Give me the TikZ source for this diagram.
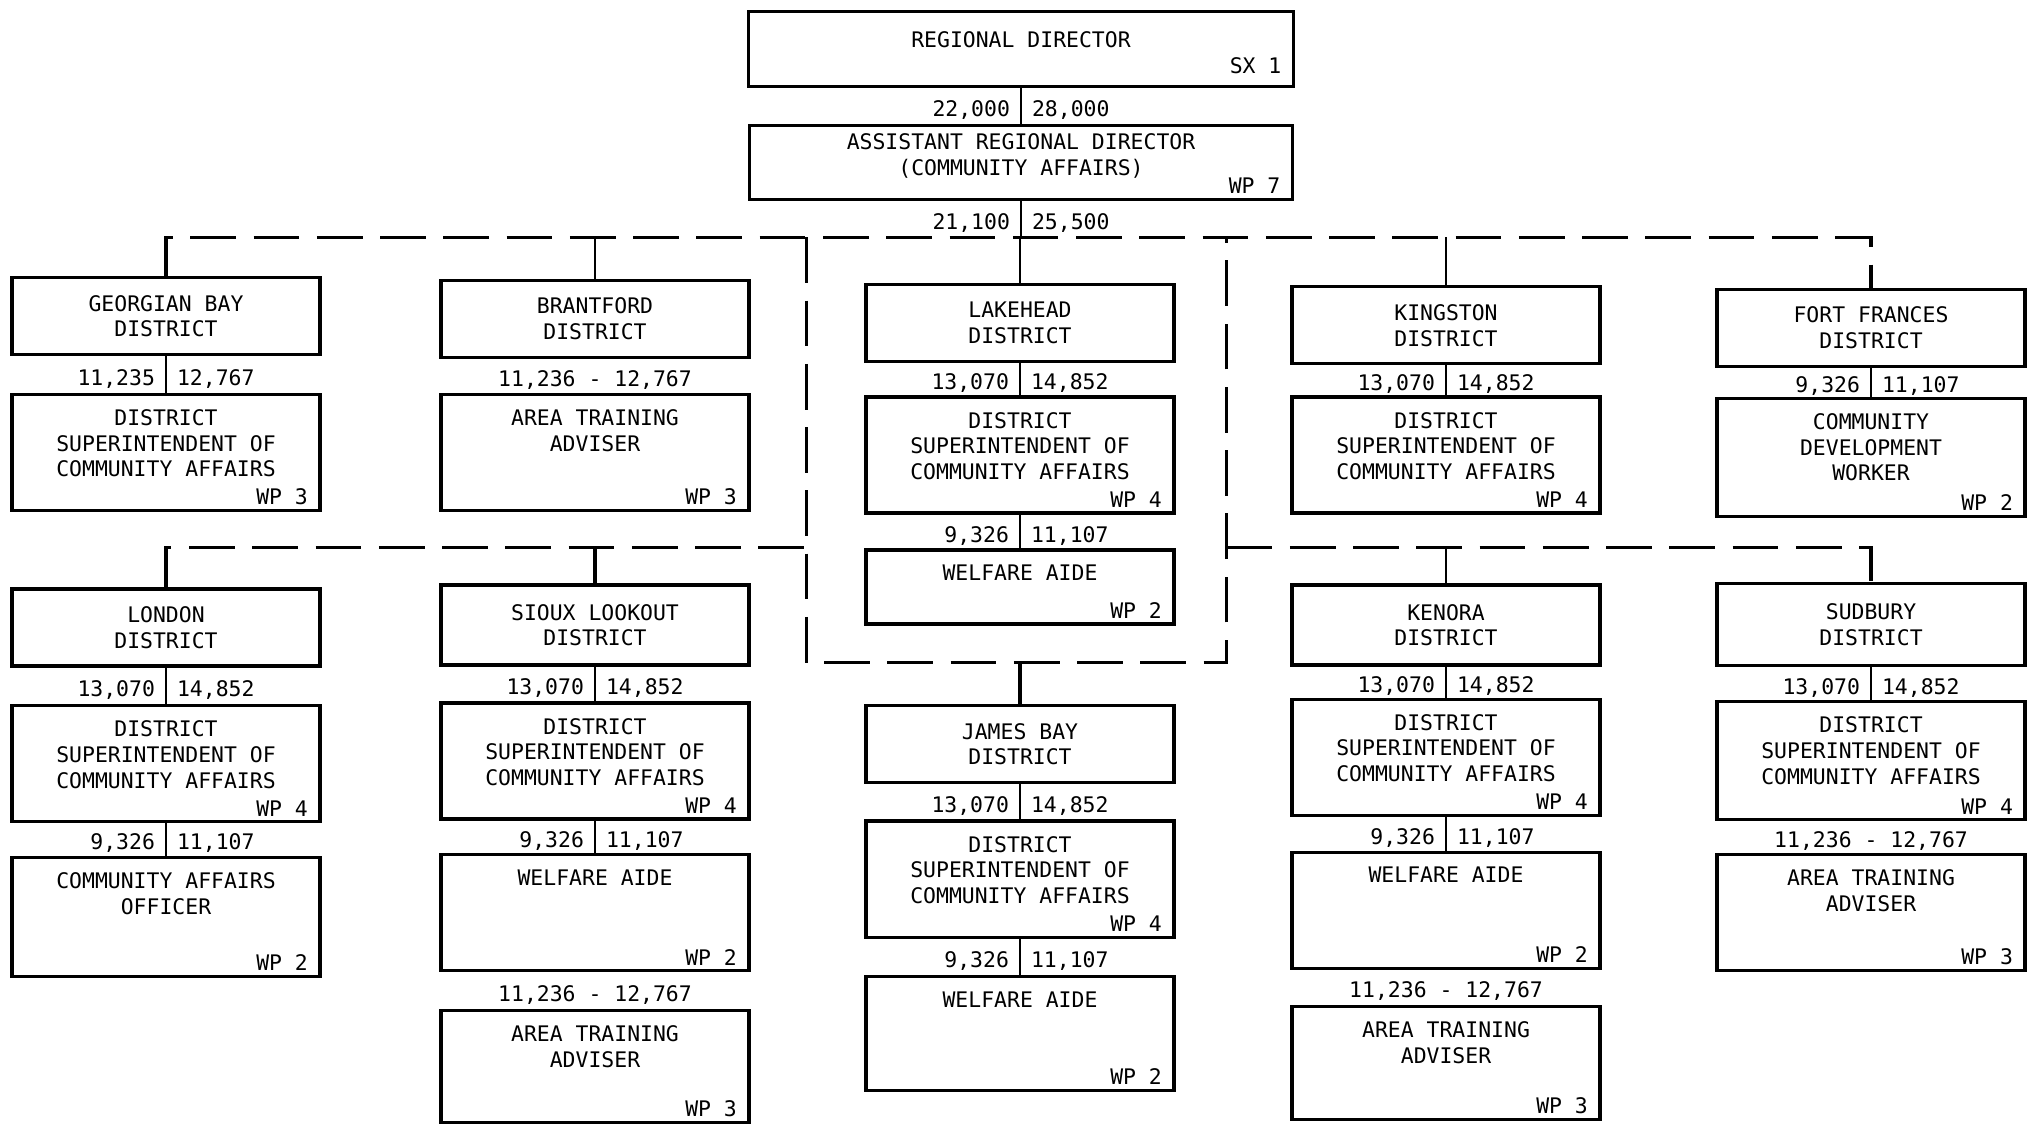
\documentclass[tikz,border=0pt]{standalone}
\usepackage{fontspec}
\newfontfamily\typewriter{DejaVu Sans Mono}
\usetikzlibrary{positioning, calc}

\begin{document}
\begin{tikzpicture}[
  every node/.style={font=\typewriter\fontsize{6.1pt}{7.3pt}\selectfont, align=center},
  unit/.style={draw, line width=.9pt, anchor=north, minimum width=3.08cm, minimum height=.77cm, inner sep=0pt},
  post/.style={draw, line width=.9pt, anchor=north, minimum width=3.08cm, minimum height=1.16cm, inner sep=0pt},
  head/.style={anchor=north, inner sep=1.6mm},
  grade/.style={anchor=south east, inner xsep=1.3mm, inner ysep=.65mm},
  lo/.style={anchor=east, inner xsep=1mm, inner ysep=0pt, yshift=-.4mm},
  hi/.style={anchor=west, inner xsep=1mm, inner ysep=0pt, yshift=-.4mm},
  pay/.style={inner sep=0pt, yshift=-.4mm},
  link/.style={line width=.6pt},
  bus/.style={line width=.9pt, dash pattern=on 13pt off 5pt}
]
  \useasboundingbox (0,0) rectangle (20.33,11.23);

  \node[post, minimum width=5.45cm, minimum height=.75cm] (rd) at (10.21,11.13) {};
  \node[head, yshift=-.5mm] (rdT) at (rd.north) {REGIONAL DIRECTOR};
  \node[grade, yshift=.7mm] (rdG) at (rd.south east) {SX 1};
  \node[post, minimum width=5.43cm, minimum height=.74cm] (ard) at (10.21,9.99) {};
  \node[head, yshift=.7mm] (ardT) at (ard.north) {ASSISTANT REGIONAL DIRECTOR\\(COMMUNITY AFFAIRS)};
  \node[grade] (ardG) at (ard.south east) {WP 7};

  \coordinate (busA) at (0,8.857);
  \coordinate (busB) at (0,5.758);
  \coordinate (boxL) at (8.065,4.604);
  \coordinate (boxR) at (12.266,4.604);

  % first row of districts
  \node[unit] (gb) at (1.66,8.468) {GEORGIAN BAY\\DISTRICT};
  \node[post] (gbSup) at (1.66,7.301) {};
  \node[head] (gbSupT) at (gbSup.north) {DISTRICT\\SUPERINTENDENT OF\\COMMUNITY AFFAIRS};
  \node[grade] (gbSupG) at (gbSup.south east) {WP 3};

  \node[unit] (br) at (5.95,8.442) {BRANTFORD\\DISTRICT};
  \node[post] (brAta) at (5.95,7.301) {};
  \node[head] (brAtaT) at (brAta.north) {AREA TRAINING\\ADVISER};
  \node[grade] (brAtaG) at (brAta.south east) {WP 3};

  \node[unit] (lk) at (10.20,8.403) {LAKEHEAD\\DISTRICT};
  \node[post] (lkSup) at (10.20,7.275) {};
  \node[head] (lkSupT) at (lkSup.north) {DISTRICT\\SUPERINTENDENT OF\\COMMUNITY AFFAIRS};
  \node[grade] (lkSupG) at (lkSup.south east) {WP 4};
  \node[post, minimum height=.74cm] (lkAide) at (10.20,5.745) {};
  \node[head] (lkAideT) at (lkAide.north) {WELFARE AIDE};
  \node[grade] (lkAideG) at (lkAide.south east) {WP 2};

  \node[unit] (kg) at (14.46,8.377) {KINGSTON\\DISTRICT};
  \node[post] (kgSup) at (14.46,7.275) {};
  \node[head] (kgSupT) at (kgSup.north) {DISTRICT\\SUPERINTENDENT OF\\COMMUNITY AFFAIRS};
  \node[grade] (kgSupG) at (kgSup.south east) {WP 4};

  \node[unit] (ff) at (18.71,8.352) {FORT FRANCES\\DISTRICT};
  \node[post, minimum height=1.18cm] (ffCdw) at (18.71,7.262) {};
  \node[head] (ffCdwT) at (ffCdw.north) {COMMUNITY\\DEVELOPMENT\\WORKER};
  \node[grade] (ffCdwG) at (ffCdw.south east) {WP 2};

  % second row of districts
  \node[unit] (ld) at (1.66,5.356) {LONDON\\DISTRICT};
  \node[post] (ldSup) at (1.66,4.189) {};
  \node[head] (ldSupT) at (ldSup.north) {DISTRICT\\SUPERINTENDENT OF\\COMMUNITY AFFAIRS};
  \node[grade] (ldSupG) at (ldSup.south east) {WP 4};
  \node[post, minimum height=1.19cm] (ldCao) at (1.66,2.672) {};
  \node[head] (ldCaoT) at (ldCao.north) {COMMUNITY AFFAIRS\\OFFICER};
  \node[grade] (ldCaoG) at (ldCao.south east) {WP 2};

  \node[unit, minimum height=.8cm] (sl) at (5.95,5.395) {SIOUX LOOKOUT\\DISTRICT};
  \node[post] (slSup) at (5.95,4.215) {};
  \node[head] (slSupT) at (slSup.north) {DISTRICT\\SUPERINTENDENT OF\\COMMUNITY AFFAIRS};
  \node[grade] (slSupG) at (slSup.south east) {WP 4};
  \node[post] (slAide) at (5.95,2.698) {};
  \node[head] (slAideT) at (slAide.north) {WELFARE AIDE};
  \node[grade] (slAideG) at (slAide.south east) {WP 2};
  \node[post, minimum height=1.12cm] (slAta) at (5.95,1.142) {};
  \node[head] (slAtaT) at (slAta.north) {AREA TRAINING\\ADVISER};
  \node[grade] (slAtaG) at (slAta.south east) {WP 3};

  \node[unit] (jb) at (10.20,4.189) {JAMES BAY\\DISTRICT};
  \node[post] (jbSup) at (10.20,3.035) {};
  \node[head] (jbSupT) at (jbSup.north) {DISTRICT\\SUPERINTENDENT OF\\COMMUNITY AFFAIRS};
  \node[grade] (jbSupG) at (jbSup.south east) {WP 4};
  \node[post, minimum height=1.14cm] (jbAide) at (10.20,1.480) {};
  \node[head] (jbAideT) at (jbAide.north) {WELFARE AIDE};
  \node[grade] (jbAideG) at (jbAide.south east) {WP 2};

  \node[unit, minimum height=.8cm] (kn) at (14.46,5.395) {KENORA\\DISTRICT};
  \node[post] (knSup) at (14.46,4.254) {};
  \node[head] (knSupT) at (knSup.north) {DISTRICT\\SUPERINTENDENT OF\\COMMUNITY AFFAIRS};
  \node[grade] (knSupG) at (knSup.south east) {WP 4};
  \node[post] (knAide) at (14.46,2.724) {};
  \node[head] (knAideT) at (knAide.north) {WELFARE AIDE};
  \node[grade] (knAideG) at (knAide.south east) {WP 2};
  \node[post, minimum height=1.13cm] (knAta) at (14.46,1.181) {};
  \node[head] (knAtaT) at (knAta.north) {AREA TRAINING\\ADVISER};
  \node[grade] (knAtaG) at (knAta.south east) {WP 3};

  \node[unit, minimum height=.82cm] (sd) at (18.71,5.408) {SUDBURY\\DISTRICT};
  \node[post, minimum height=1.18cm] (sdSup) at (18.71,4.228) {};
  \node[head] (sdSupT) at (sdSup.north) {DISTRICT\\SUPERINTENDENT OF\\COMMUNITY AFFAIRS};
  \node[grade] (sdSupG) at (sdSup.south east) {WP 4};
  \node[post] (sdAta) at (18.71,2.698) {};
  \node[head] (sdAtaT) at (sdAta.north) {AREA TRAINING\\ADVISER};
  \node[grade] (sdAtaG) at (sdAta.south east) {WP 3};

  % salary ranges
  \draw[link] (rd.south) -- node[lo] (rdLo) {22,000} node[hi] (rdHi) {28,000} (ard.north);
  \draw[link] (ard.south) -- node[lo] (ardLo) {21,100} node[hi] (ardHi) {25,500} (ard.south |- busA);
  \draw[link] (gb.south) -- node[lo] (gbLo) {11,235} node[hi] (gbHi) {12,767} (gbSup.north);
  \node[pay] (brPay) at ($(br.south)!.5!(brAta.north)$) {11,236 - 12,767};
  \draw[link] (lk.south) -- node[lo] (lkLo) {13,070} node[hi] (lkHi) {14,852} (lkSup.north);
  \draw[link] (lkSup.south) -- node[lo] (lkSupLo) {9,326} node[hi] (lkSupHi) {11,107} (lkAide.north);
  \draw[link] (kg.south) -- node[lo] (kgLo) {13,070} node[hi] (kgHi) {14,852} (kgSup.north);
  \draw[link] (ff.south) -- node[lo] (ffLo) {9,326} node[hi] (ffHi) {11,107} (ffCdw.north);
  \draw[link] (ld.south) -- node[lo] (ldLo) {13,070} node[hi] (ldHi) {14,852} (ldSup.north);
  \draw[link] (ldSup.south) -- node[lo] (ldSupLo) {9,326} node[hi] (ldSupHi) {11,107} (ldCao.north);
  \draw[link] (sl.south) -- node[lo] (slLo) {13,070} node[hi] (slHi) {14,852} (slSup.north);
  \draw[link] (slSup.south) -- node[lo] (slSupLo) {9,326} node[hi] (slSupHi) {11,107} (slAide.north);
  \node[pay] (slPay) at ($(slAide.south)!.5!(slAta.north)$) {11,236 - 12,767};
  \draw[link] (jb.south) -- node[lo] (jbLo) {13,070} node[hi] (jbHi) {14,852} (jbSup.north);
  \draw[link] (jbSup.south) -- node[lo] (jbSupLo) {9,326} node[hi] (jbSupHi) {11,107} (jbAide.north);
  \draw[link] (kn.south) -- node[lo] (knLo) {13,070} node[hi] (knHi) {14,852} (knSup.north);
  \draw[link] (knSup.south) -- node[lo] (knSupLo) {9,326} node[hi] (knSupHi) {11,107} (knAide.north);
  \node[pay] (knPay) at ($(knAide.south)!.5!(knAta.north)$) {11,236 - 12,767};
  \draw[link] (sd.south) -- node[lo] (sdLo) {13,070} node[hi] (sdHi) {14,852} (sdSup.north);
  \node[pay] (sdPay) at ($(sdSup.south)!.5!(sdAta.north)$) {11,236 - 12,767};

  % reporting lines
  \draw[bus] (gb.north) -- (gb.north |- busA) -- (ff.north |- busA) -- (ff.north);
  \draw[link] (br.north) -- (br.north |- busA);
  \draw[link] (lk.north) -- (lk.north |- busA);
  \draw[link] (kg.north) -- (kg.north |- busA);
  \draw[bus] (boxL |- busA) -- (boxL) -- (boxR) -- (boxR |- busA);
  \draw[bus] (ld.north) -- (ld.north |- busB) -- (boxL |- busB);
  \draw[bus] (sl.north) -- (sl.north |- busB);
  \draw[bus] (boxR |- busB) -- (sd.north |- busB) -- (sd.north);
  \draw[link] (kn.north) -- (kn.north |- busB);
  \draw[bus] (jb.north) -- (jb.north |- boxL);
\end{tikzpicture}
\end{document}
